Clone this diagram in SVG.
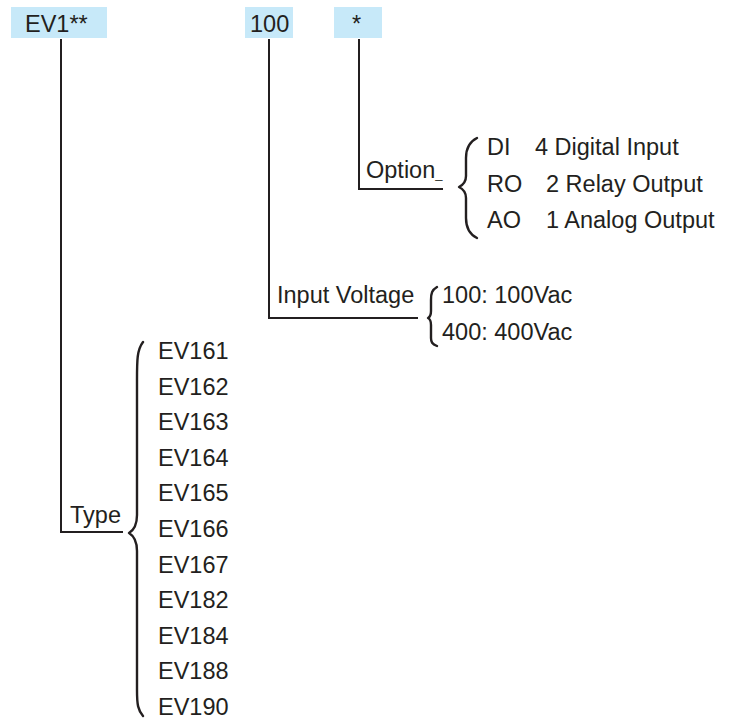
<svg xmlns="http://www.w3.org/2000/svg" width="735" height="721" viewBox="0 0 735 721">
<style>
.t{font-family:"Liberation Sans",Arial,sans-serif;font-size:23.5px;fill:#231f20}
.box{fill:#c7e9f9}
.ln{fill:none;stroke:#231f20;stroke-width:2}
.br{fill:none;stroke:#231f20;stroke-width:2.4;stroke-linejoin:round;stroke-linecap:round}
</style>
<rect width="735" height="721" fill="#ffffff"/>
<g id="node-ev1">
<rect class="box" x="11" y="7" width="96" height="31"/>
<text class="t" x="25" y="32">EV1**</text>
</g>
<g id="node-100">
<rect class="box" x="245" y="7" width="48" height="31"/>
<text class="t" x="250" y="32">100</text>
</g>
<g id="node-star">
<rect class="box" x="334" y="7" width="48" height="31"/>
<text class="t" x="352" y="32">*</text>
</g>
<g id="connectors">
<polyline class="ln" points="61,39 61,532 123,532"/>
<polyline class="ln" points="269,39 269,318 418,318"/>
<polyline class="ln" points="359,39 359,189 443,189"/>
</g>
<g id="node-option">
<text class="t" x="366" y="178">Option<tspan font-size="13">_</tspan></text>
<path class="br" d="M477,138 C469,142 466,148 466,158 L466,176 C466,182 463,185 459,187 C463,189 466,192 466,198 L466,218 C466,228 469,234 477,238"/>
<text class="t" x="487" y="155">DI</text>
<text class="t" x="535" y="155">4 Digital Input</text>
<text class="t" x="487" y="192">RO</text>
<text class="t" x="546" y="192">2 Relay Output</text>
<text class="t" x="487" y="228">AO</text>
<text class="t" x="546" y="228">1 Analog Output</text>
</g>
<g id="node-voltage">
<text class="t" x="277" y="303">Input Voltage</text>
<path class="br" d="M437,287 C432,290 431,293 431,300 L431,311 C431,315 430,317 428,318 C430,319 431,321 431,325 L431,338 C431,342 432,344 437,346"/>
<text class="t" x="442" y="303">100: 100Vac</text>
<text class="t" x="442" y="340">400: 400Vac</text>
</g>
<g id="node-type">
<text class="t" x="70" y="523">Type</text>
<path class="br" d="M143,342 C137,350 137,360 137,380 L137,515 C137,525 134,530 129,533 C134,536 137,541 137,551 L137,690 C137,705 138,710 143,716"/>
<text class="t" x="158" y="359">EV161</text>
<text class="t" x="158" y="394.6">EV162</text>
<text class="t" x="158" y="430.2">EV163</text>
<text class="t" x="158" y="465.8">EV164</text>
<text class="t" x="158" y="501.4">EV165</text>
<text class="t" x="158" y="537">EV166</text>
<text class="t" x="158" y="572.6">EV167</text>
<text class="t" x="158" y="608.2">EV182</text>
<text class="t" x="158" y="643.8">EV184</text>
<text class="t" x="158" y="679.4">EV188</text>
<text class="t" x="158" y="715">EV190</text>
</g>
</svg>
